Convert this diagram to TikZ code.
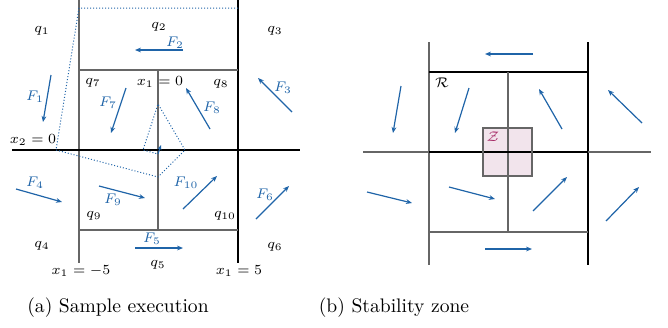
\documentclass[tikz,border=0pt]{standalone}
\usepackage{amsmath, amssymb}
\usepackage{tikz}
\usetikzlibrary{arrows.meta}
\usepackage{xcolor}
\definecolor{flowblue}{RGB}{31,100,168}
\definecolor{zonefill}{RGB}{242,228,236}
\definecolor{zonetext}{RGB}{165,40,100}
\tikzset{
    wall/.style={
        line width=0.7pt,
        black!60
    },
    axisline/.style={
        line width=0.7pt,
        black
    },
    flow/.style={
        line width=0.6pt,
        flowblue,
        -{Stealth[length=3pt,width=2.4pt]}
    },
    traj/.style={
        line width=0.5pt,
        flowblue,
        densely dotted
    }
}
\begin{document}
\begin{tikzpicture}[
        x=0.5pt, y=-0.5pt,
        every node/.style={font=\fontsize{7.5}{9}\selectfont, inner sep=0pt},
        flabel/.style={text=flowblue}
      ]
      \useasboundingbox (0,0) rectangle (668,327);

      % (a) sample execution
      \draw[wall] (79,0) -- (79,263);
      \draw[axisline] (238,0) -- (238,263);
      \draw[wall] (79,70) -- (238,70);
      \draw[wall] (79,230) -- (238,230);
      \draw[wall] (158,70) -- (158,230);
      \draw[axisline] (12,150) -- (300,150);

      \node (q1) at (42,31) {$q_1$};
      \node (q2) at (159,27) {$q_2$};
      \node (q3) at (275,31) {$q_3$};
      \node (q4) at (42,246) {$q_4$};
      \node (q5) at (158,265) {$q_5$};
      \node (q6) at (275,247) {$q_6$};
      \node (q7) at (93,83) {$q_7$};
      \node (q8) at (221,84) {$q_8$};
      \node (q9) at (94,216) {$q_9$};
      \node (q10) at (225,216) {$q_{10}$};
      \node (xa) at (160,82) {$x_1 = 0$};
      \node (xb) at (33,140) {$x_2 = 0$};
      \node (xc) at (81,271) {$x_1 = -5$};
      \node (xd) at (239,271) {$x_1 = 5$};

      \draw[flow] (51,75) -- (43,122);
      \draw[flow] (183,50) -- (135,50);
      \draw[flow] (292,112) -- (258,78);
      \draw[flow] (16,189) -- (62,202);
      \draw[flow] (135,248) -- (183,248);
      \draw[flow] (256,219) -- (289,186);
      \draw[flow] (126,88) -- (111,133);
      \draw[flow] (210,129) -- (186,88);
      \draw[flow] (99,186) -- (145,198);
      \draw[flow] (183,209) -- (217,176);

      \node[flabel] (F1) at (35,97) {$F_1$};
      \node[flabel] (F2) at (175,43) {$F_2$};
      \node[flabel] (F3) at (283,88) {$F_3$};
      \node[flabel] (F4) at (35,183) {$F_4$};
      \node[flabel] (F5) at (152,239) {$F_5$};
      \node[flabel] (F6) at (265,195) {$F_6$};
      \node[flabel] (F7) at (108,103) {$F_7$};
      \node[flabel] (F8) at (212,108) {$F_8$};
      \node[flabel] (F9) at (113,200) {$F_9$};
      \node[flabel] (F10) at (186,183) {$F_{10}$};

      \draw[traj] (238,8) -- (79,8) -- (56,150) -- (158,177) -- (185,150)
        -- (158,104) -- (143,150) -- (158,154);
      \draw[flowblue, line width=0.5pt, -{Stealth[length=2.5pt,width=2pt]}]
        (158,154) -- (161,145);

      % (b) stability zone
      \fill[zonefill] (483,128) rectangle (532,176);
      \draw[wall] (429,42) -- (429,265);
      \draw[axisline] (588,42) -- (588,265);
      \draw[axisline] (429,72) -- (588,72);
      \draw[wall] (429,232) -- (588,232);
      \draw[wall] (508,72) -- (508,232);
      \draw[wall] (363,152) -- (651,152);
      \draw[axisline] (429,152) -- (588,152);
      \draw[wall] (483,128) rectangle (532,176);

      \node (R) at (442,83) {$\mathcal{R}$};
      \node[text=zonetext] (Z) at (493,137) {$\mathcal{Z}$};

      \draw[flow] (401,86) -- (393,133);
      \draw[flow] (533,54) -- (485,54);
      \draw[flow] (642,123) -- (608,90);
      \draw[flow] (367,192) -- (412,203);
      \draw[flow] (485,249) -- (532,249);
      \draw[flow] (606,221) -- (639,187);
      \draw[flow] (469,88) -- (455,133);
      \draw[flow] (562,129) -- (539,89);
      \draw[flow] (449,187) -- (495,199);
      \draw[flow] (533,211) -- (567,177);

      % captions
      \node[font=\fontsize{9.8}{12}\selectfont] (capa) at (118,308) {(a) Sample execution};
      \node[font=\fontsize{9.8}{12}\selectfont] (capb) at (394,308) {(b) Stability zone};
    \end{tikzpicture}
\end{document}
